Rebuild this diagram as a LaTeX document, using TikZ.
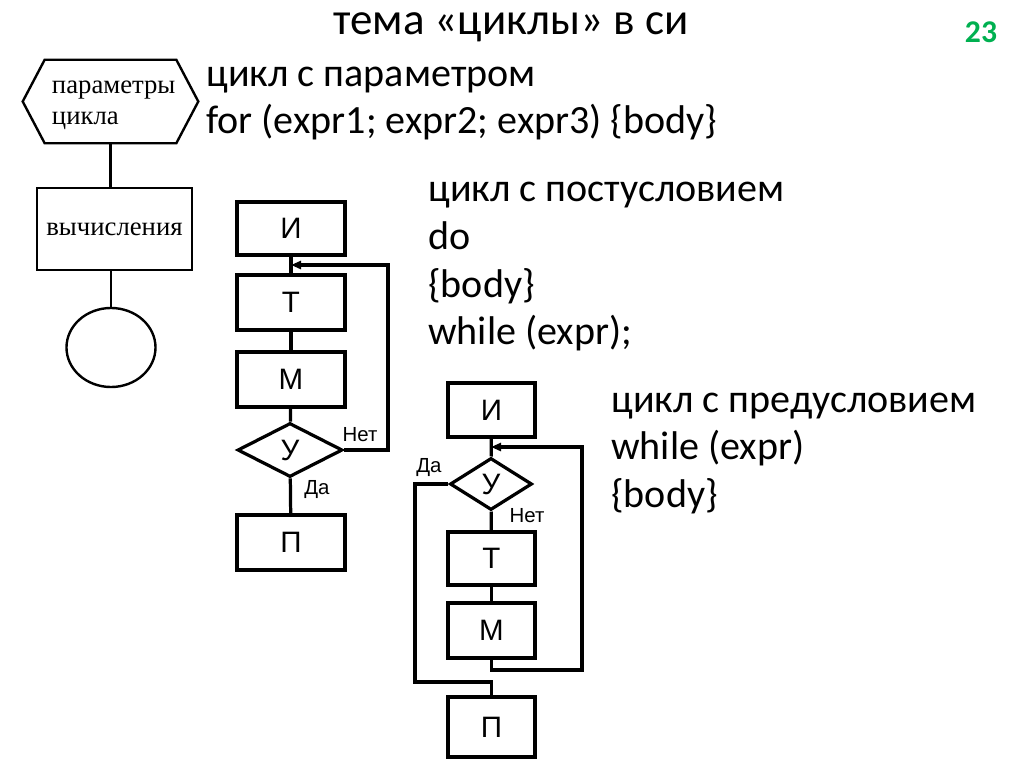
\documentclass[tikz,border=0pt]{standalone}
\usepackage{xcolor}
\usepackage{fontspec}
\setmainfont{Carlito}
\newfontfamily\flowfont{Liberation Sans}
\newfontfamily\bookfont{Liberation Serif}
\usepackage{tikz}
\usetikzlibrary{arrows.meta}
\usetikzlibrary{positioning, shapes.geometric}
\definecolor{slidegreen}{RGB}{0, 176, 80}
\tikzset{
old frame/.style = { rectangle, draw = none, minimum width = 43.75mm, minimum height = 20.75mm, inner sep = 0pt },
old text/.style = { anchor = west, align = left, inner sep = 0pt, font = \bookfont\fontsize{19}{22}\selectfont },
old block/.style = { rectangle, draw = black, line width = 1.7pt, minimum width = 38.75mm, minimum height = 20.5mm, inner sep = 0pt, font = \bookfont\fontsize{19}{20}\selectfont },
old end/.style = { ellipse, draw = black, line width = 1.7pt, minimum width = 22.25mm, minimum height = 19.75mm, inner sep = 0pt },
flow box/.style = { rectangle, draw = black, line width = 2.3pt, inner sep = 0pt, font = \flowfont\fontsize{21}{21}\selectfont },
flow test/.style = { diamond, draw = black, line width = 2.3pt, inner sep = 0pt, font = \flowfont\fontsize{21}{21}\selectfont },
flow label/.style = { inner sep = 0pt, font = \flowfont\fontsize{14.5}{15}\selectfont },
flow line/.style = { draw = black, line width = 2.3pt },
back arrow/.style = { flow line, -{Triangle[length = 2.5mm, width = 2mm]} },
code line/.style = { anchor = base west, inner sep = 0pt, font = \fontsize{28.5}{34}\selectfont },
}

\begin{document}
\begin{tikzpicture}[x = 0.025cm, y = -0.025cm]
    \useasboundingbox (0, 0) rectangle (1024, 767);
    \node[anchor = base, inner sep = 0pt, font = \fontsize{32}{36}\selectfont] (title) at (511, 35) {тема «циклы» в си};
    \node[anchor = base, inner sep = 0pt, text = slidegreen, font = \bfseries\fontsize{22.5}{24}\selectfont] (pageno) at (981, 43) {23};
    % old style: parameter loop
    \node[old frame] (params) at (110.5, 101.5) {};
    \path[draw = black, line width = 1.7pt] (params.west) -- ([xshift = 5.5mm]params.north west) -- ([xshift = -5.5mm]params.north east) -- (params.east) -- ([xshift = -5.5mm]params.south east) -- ([xshift = 5.5mm]params.south west) -- cycle;
    \node[old text] (paramsText) at ([xshift = 7.25mm, yshift = -1mm]params.west) {параметры\\цикла};
    \node[old block] (calc) at (114.5, 229) {вычисления};
    \node[old end] (stop) at (111, 347.5) {};
    \path[draw = black, line width = 1.7pt] (params.south) -- (params.south |- calc.north);
    \path[draw = black, line width = 1.7pt] (stop.north) -- (stop.north |- calc.south);
    \node[code line] (forHead) at (206, 87) {цикл с параметром};
    \node[code line] (forBody) at (206, 134) {for (expr1; expr2; expr3) \{body\}};
    % loop with postcondition
    \node[flow box, minimum width = 27mm, minimum height = 13.25mm] (iMid) at (291, 228.5) {И};
    \node[flow box, minimum width = 27mm, minimum height = 13.75mm] (tMid) at (291, 302.5) {Т};
    \node[flow box, minimum width = 27mm, minimum height = 13.75mm] (mMid) at (291, 379.5) {М};
    \node[flow test, minimum width = 26.25mm, minimum height = 13.5mm] (yMid) at (290, 450) {У};
    \node[flow box, minimum width = 27mm, minimum height = 13.75mm] (pMid) at (291, 542.5) {П};
    \coordinate (inMid) at (291, 265);
    \coordinate (turnMid) at (388, 265);
    \path[flow line] (iMid) -- (tMid);
    \path[flow line] (tMid) -- (mMid);
    \path[flow line] (mMid) -- (yMid);
    \path[flow line] (yMid) -- (pMid);
    \path[back arrow] (yMid.east) -| (turnMid) -- (inMid);
    \node[flow label] (noMid) at (360, 435) {Нет};
    \node[flow label] (yesMid) at (317, 490) {Да};
    \node[code line] (doHead) at (428, 202) {цикл с постусловием};
    \node[code line] (doWord) at (428, 249) {do};
    \node[code line] (doBody) at (428, 297) {\{body\}};
    \node[code line] (doTail) at (428, 344) {while (expr);};
    % loop with precondition
    \node[flow box, minimum width = 21.75mm, minimum height = 13.5mm] (iRight) at (491.5, 410) {И};
    \node[flow test, minimum width = 20.5mm, minimum height = 13mm] (yRight) at (491, 484) {У};
    \node[flow box, minimum width = 21.75mm, minimum height = 13.25mm] (tRight) at (491.5, 558.5) {Т};
    \node[flow box, minimum width = 21.75mm, minimum height = 13.75mm] (mRight) at (491.5, 630.5) {М};
    \node[flow box, minimum width = 21.75mm, minimum height = 15mm] (pRight) at (491.5, 727) {П};
    \coordinate (inRight) at (491, 447);
    \coordinate (turnRight) at (582, 670);
    \coordinate (turnExit) at (415, 682);
    \path[flow line] (iRight) -- (yRight);
    \path[flow line] (yRight) -- (tRight);
    \path[flow line] (tRight) -- (mRight);
    \path[back arrow] (mRight.south) |- (turnRight) |- (inRight);
    \path[flow line] (yRight.west) -| (turnExit) -| (pRight.north);
    \node[flow label] (yesRight) at (429, 468) {Да};
    \node[flow label] (noRight) at (527, 516) {Нет};
    \node[code line] (whileHead) at (611, 412) {цикл с предусловием};
    \node[code line] (whileWord) at (611, 459) {while (expr)};
    \node[code line] (whileBody) at (611, 507) {\{body\}};
\end{tikzpicture}
\end{document}
